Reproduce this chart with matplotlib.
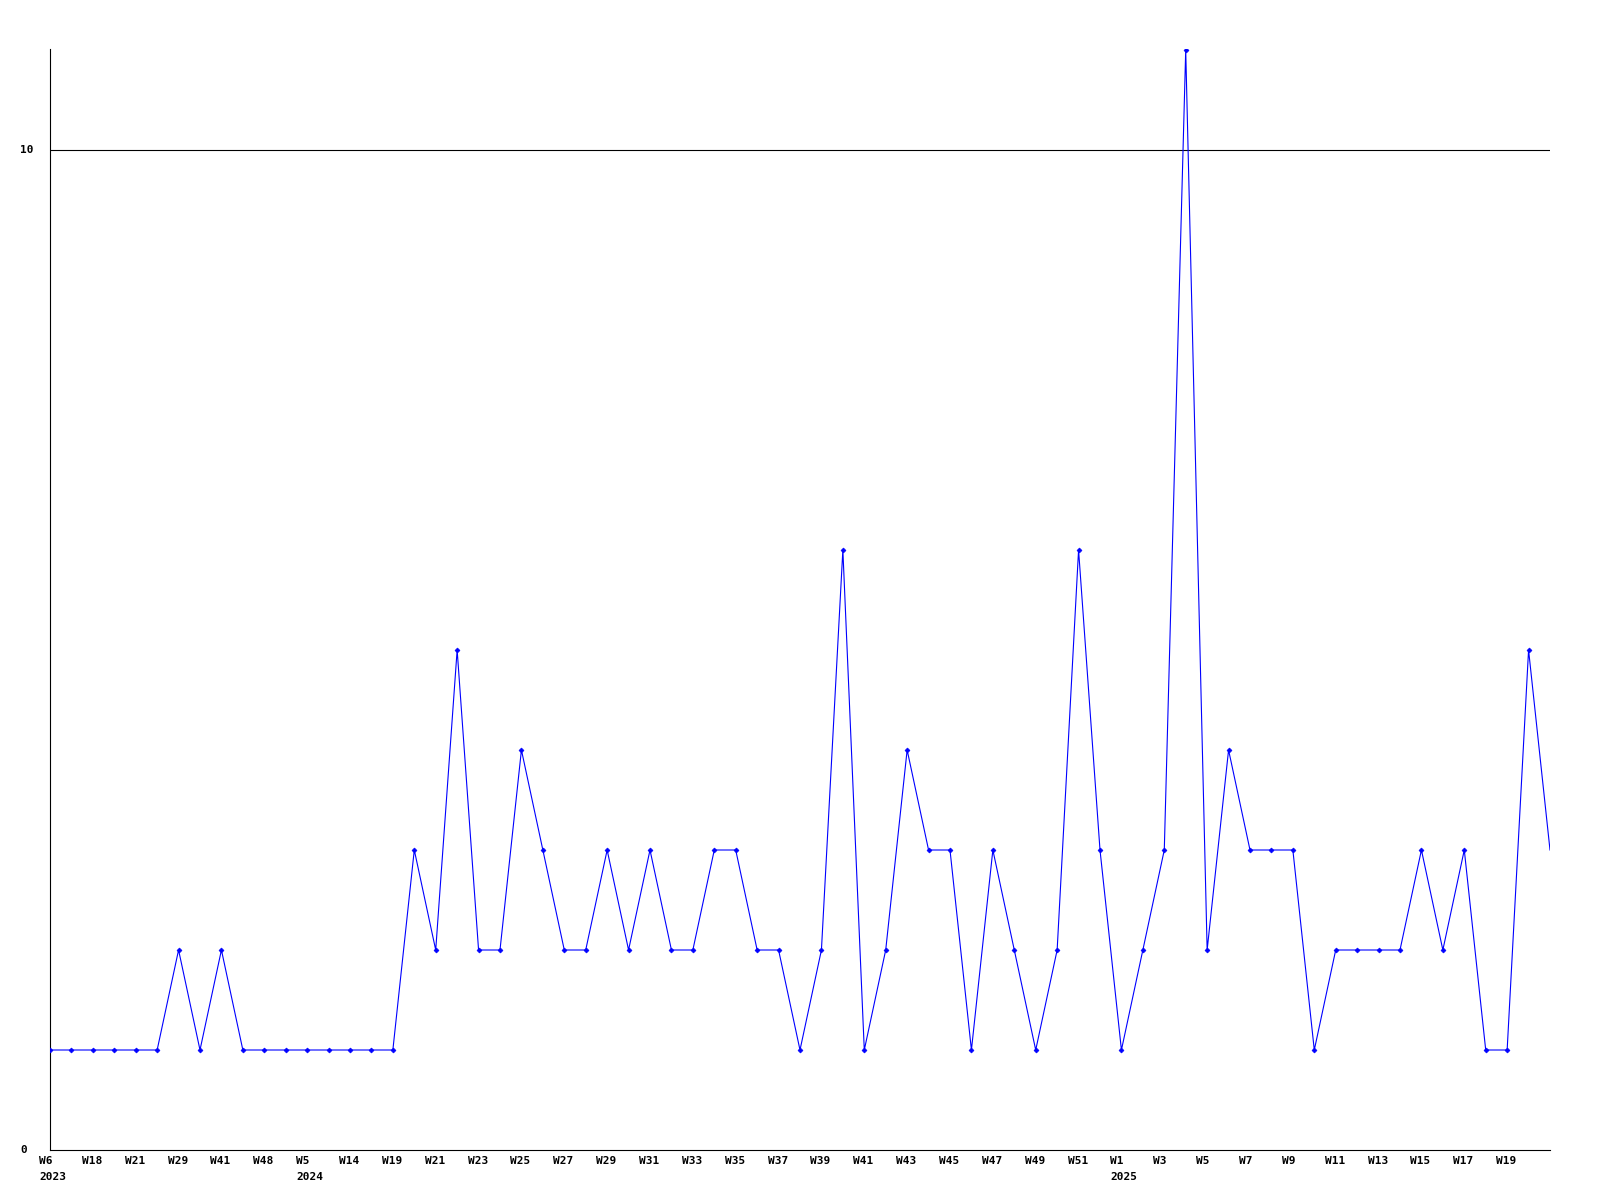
import matplotlib
matplotlib.use("Agg")
import matplotlib.pyplot as plt
import matplotlib.transforms as mtransforms

values = [1, 1, 1, 1, 1, 1, 2, 1, 2, 1, 1, 1, 1, 1, 1, 1, 1, 3, 2, 5,
          2, 2, 4, 3, 2, 2, 3, 2, 3, 2, 2, 3, 3, 2, 2, 1, 2, 6, 1, 2,
          4, 3, 3, 1, 3, 2, 1, 2, 6, 3, 1, 2, 3, 11, 2, 4, 3, 3, 3, 1,
          2, 2, 2, 2, 3, 2, 3, 1, 1, 5, 3]
week_labels = ["W6", "W18", "W21", "W29", "W41", "W48", "W5", "W14", "W19", "W21",
               "W23", "W25", "W27", "W29", "W31", "W33", "W35", "W37", "W39", "W41",
               "W43", "W45", "W47", "W49", "W51", "W1", "W3", "W5", "W7", "W9",
               "W11", "W13", "W15", "W17", "W19"]
year_labels = ["2023", "2024", "2025"]
year_positions = [0, 12, 50]
y_ticks = [0, 10]

fig = plt.figure(figsize=(16, 12), dpi=100)
ax = fig.add_axes([50 / 1600, 50 / 1200, 1500 / 1600, 1101 / 1200])

x = list(range(len(values)))
ax.plot(x, values, color=(0, 0, 1), lw=0.8, zorder=3)
ax.plot(x[:-1], values[:-1], ls="none", marker="D", ms=2.5, mew=0.5,
        color=(0, 0, 1), zorder=4)

ax.set_xlim(0, len(values) - 1)
ax.set_ylim(0, 11.01)
for s in ["top", "right"]:
    ax.spines[s].set_visible(False)
for s in ["left", "bottom"]:
    ax.spines[s].set_linewidth(0.8)
    ax.spines[s].set_color("black")

for yt in y_ticks:
    if yt > 0:
        ax.axhline(yt, color="black", lw=0.8, zorder=2)

ax.set_xticks([])
ax.set_yticks([])

font = dict(family="DejaVu Sans Mono", fontweight="bold", fontsize=8, color="black")

# x labels, left aligned 11px left of point
off = mtransforms.ScaledTranslation(-11 / 100, 0, fig.dpi_scale_trans)
tr = mtransforms.blended_transform_factory(ax.transData, fig.transFigure) + off
for i, lab in enumerate(week_labels):
    ax.text(2 * i, 1 - 1161 / 1200, lab, transform=tr, ha="left", va="center", **font)
for pos, lab in zip(year_positions, year_labels):
    ax.text(pos, 1 - 1177 / 1200, lab, transform=tr, ha="left", va="center", **font)

# y labels left-aligned at x=20px
tr_y = mtransforms.blended_transform_factory(fig.transFigure, ax.transData)
for yt in y_ticks:
    ax.text(20 / 1600, yt, str(yt), transform=tr_y, ha="left", va="center", **font)

fig.savefig("out.png", dpi=100, facecolor="white")
